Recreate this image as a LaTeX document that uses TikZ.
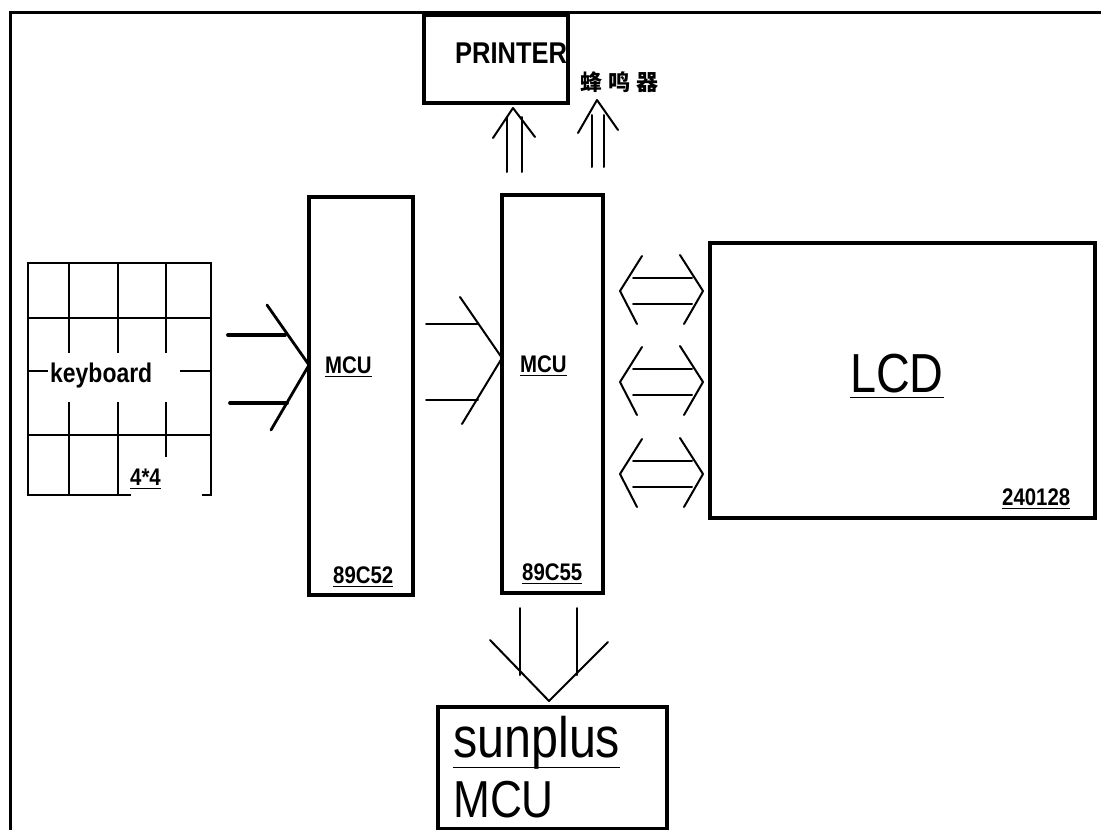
\documentclass[tikz,border=0pt]{standalone}
\usepackage{fontspec}
\setmainfont{Liberation Sans}[FakeStretch=0.85]
\newfontfamily\cjk{Noto Sans CJK SC}
\usetikzlibrary{positioning,calc}
\newcommand{\ulbox}[2][3pt]{\setbox0\hbox{#2}\leavevmode\rlap{\vrule height -#1 depth \dimexpr#1+1.4pt\relax width \wd0}\box0}

\begin{document}
\begin{tikzpicture}[
    x=1pt, y=-1pt,
    box/.style={draw, rectangle, line width=3.2pt, inner sep=0pt, outer sep=0pt},
    lbl/.style={inner sep=0pt, anchor=base west, font=\bfseries\fontsize{24}{26}\selectfont},
    big/.style={inner sep=0pt, font=\fontsize{52}{54}\selectfont},
    keys/.style={line width=1.4pt},
    wire/.style={line width=2pt, line cap=round, line join=round},
    thick wire/.style={line width=3.8pt, line cap=round}
  ]
    \useasboundingbox (0,0) rectangle (1101,830);

    % frame
    \draw[line width=3pt] (1101,12) -- (10,12) -- (10,830);

    % boxes
    \node[box, minimum width=104, minimum height=398] (mcuA) at (361,396) {};
    \node[box, minimum width=101, minimum height=398] (mcuB) at (552.5,394) {};
    \node[box, minimum width=144, minimum height=88] (printer) at (496,59) {};
    \node[box, minimum width=385, minimum height=275] (lcd) at (902.5,380.5) {};
    \node[box, minimum width=229, minimum height=122] (sunplus) at (552.5,768) {};

    % keyboard grid
    \draw[keys] (28,263) rectangle (211,495);
    \draw[keys] (28,318) -- (211,318) (28,435) -- (211,435);
    \draw[keys] (28,371) -- (48,371) (180,371) -- (211,371);
    \foreach \kx in {69,118,166}
      \draw[keys] (\kx,263) -- (\kx,353);
    \draw[keys] (69,402) -- (69,495) (118,402) -- (118,495) (166,402) -- (166,457);
    \draw[white, line width=2.2pt] (131,495) -- (202,495);

    % texts
    \node[lbl, font=\bfseries\fontsize{27}{29}\selectfont] (kbdtxt) at (50,382) {keyboard};
    \node[lbl] (kbdsize) at (130,485) {\ulbox{4*4}};
    \node[lbl] (mcuAtxt) at (325,373) {\ulbox{MCU}};
    \node[lbl] (mcuBtxt) at (520,372) {\ulbox{MCU}};
    \node[lbl] (mcuAtype) at (333,583) {\ulbox{89C52}};
    \node[lbl] (mcuBtype) at (522,580) {\ulbox{89C55}};
    \node[lbl, font=\bfseries\fontsize{30}{32}\selectfont] (prttxt) at (455,63) {PRINTER};
    \node[lbl, font=\cjk\bfseries\fontsize{22}{24}\selectfont] (buzzer) at (580,90) {蜂\hspace{6pt}鸣\hspace{6pt}器};
    \node[big, anchor=base, font=\fontsize{55}{57}\selectfont] (lcdtxt) at (897,392) {\ulbox[5pt]{LCD}};
    \node[lbl] (lcdtype) at (1002,505) {\ulbox{240128}};
    \node[big, anchor=base west, font=\fontsize{57}{59}\selectfont] (suntxt) at (453,757) {\ulbox[10pt]{sunplus}};
    \node[big, anchor=base west] (sunmcu) at (453,817) {MCU};

    % keyboard to MCU
    \draw[thick wire] (228,335) -- (285,335) (230,403) -- (287,403);
    \draw[wire, line width=2.8pt] (267,305) -- (mcuA.west |- 0,365) -- (271,430);

    % MCU to MCU
    \draw[wire] (426,324) -- (478,324) (426,400) -- (478,400);
    \draw[wire] (460,297) -- (mcuB.west |- 0,358) -- (462,424);

    % up to printer and buzzer
    \draw[wire] (507,172) -- (507,117) (522,172) -- (522,117);
    \draw[wire] (493,138) -- (513,108) -- (535,137);
    \draw[wire] (592,167) -- (592,115) (604,167) -- (604,115);
    \draw[wire] (578,133) -- (597,100) -- (618,130);

    % MCU and LCD
    \foreach \yc in {291,382,474} {
      \draw[wire] (633,\yc-13) -- (692,\yc-13) (633,\yc+13) -- (692,\yc+13);
      \draw[wire] (642,\yc-35) -- (620,\yc) -- (637,\yc+33);
      \draw[wire] (680,\yc-36) -- (703,\yc) -- (684,\yc+33);
    }

    % down to sunplus
    \draw[wire] (520,608) -- (520,675) (577,608) -- (577,675);
    \draw[wire] (490,640) -- (549,701) -- (608,642);
\end{tikzpicture}
\end{document}
